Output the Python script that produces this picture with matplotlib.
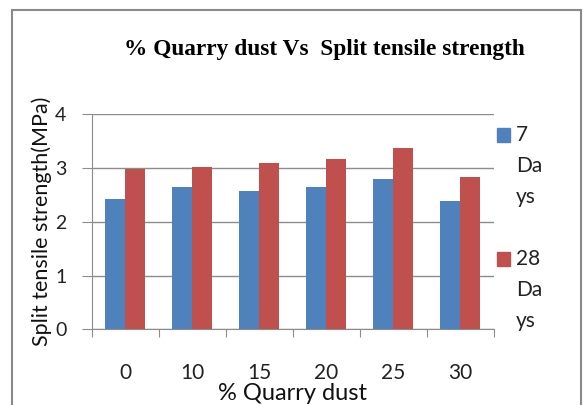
import numpy as np
import matplotlib.pyplot as plt
from matplotlib.patches import Rectangle

# data
quarry_dust = ['0', '10', '15', '20', '25', '30']
days_7 = [2.43, 2.64, 2.57, 2.64, 2.79, 2.38]
days_28 = [2.98, 3.02, 3.10, 3.16, 3.37, 2.83]
series_labels = ['7\nDa\nys', '28\nDa\nys']

blue = '#4f81bd'
red = '#c0504d'
grid = '#8c8c8c'

fig = plt.figure(figsize=(5.83, 4.05), dpi=100)
ax = fig.add_axes([0.157, 0.187, 0.69, 0.531])

x = np.arange(len(quarry_dust))
w = 0.3
ax.bar(x - w / 2, days_7, width=w, color=blue, zorder=3)
ax.bar(x + w / 2, days_28, width=w, color=red, zorder=3)

ax.set_xlim(-0.5, len(quarry_dust) - 0.5)
ax.set_ylim(0, 4)
ax.set_yticks([0, 1, 2, 3, 4])
ax.yaxis.grid(True, color=grid, linewidth=1, zorder=0)

# category boundary ticks on x, labels centered below
ax.set_xticks(np.arange(-0.5, len(quarry_dust), 1))
ax.set_xticklabels([])
ax.set_xticks(x, minor=True)
ax.set_xticklabels(quarry_dust, minor=True, fontsize=15, family='Lato', color='#222222')
ax.tick_params(axis='x', which='major', length=6, color=grid, direction='out')
ax.tick_params(axis='x', which='minor', length=0, pad=24)
ax.tick_params(axis='y', length=7, color=grid, labelsize=14, pad=11, labelcolor='#222222')
for lab in ax.get_yticklabels():
    lab.set_family('Lato')

for s in ['top', 'right']:
    ax.spines[s].set_visible(False)
for s in ['left', 'bottom']:
    ax.spines[s].set_color(grid)

ax.set_xlabel('% Quarry dust', fontsize=17, family='Lato', color='#111111', labelpad=0.5)
ax.set_ylabel('Split tensile strength(MPa)', fontsize=15.5, family='Lato', color='#111111', labelpad=2)

fig.text(0.557, 0.877, '% Quarry dust Vs  Split tensile strength', ha='center', va='center',
         fontsize=16.8, family='Liberation Serif', fontweight='bold')

# legend drawn by hand, wrapped text like the original
leg_y = [1 - 135 / 405, 1 - 259 / 405]
for col, lab, yy in zip([blue, red], series_labels, leg_y):
    fig.patches.append(Rectangle((0.853, yy - 0.017), 0.022, 0.034, transform=fig.transFigure,
                                 color=col, figure=fig))
    fig.text(0.885, yy + 0.024, lab, ha='left', va='top', fontsize=15, family='Lato',
             color='#222222', linespacing=1.68)

# outer chart frame
fig.patches.append(Rectangle((0.021, -0.05), 0.975, 1.025, transform=fig.transFigure,
                             fill=False, edgecolor='#8a8a8a', linewidth=1.5, figure=fig))

fig.savefig('out.png', dpi=100)
